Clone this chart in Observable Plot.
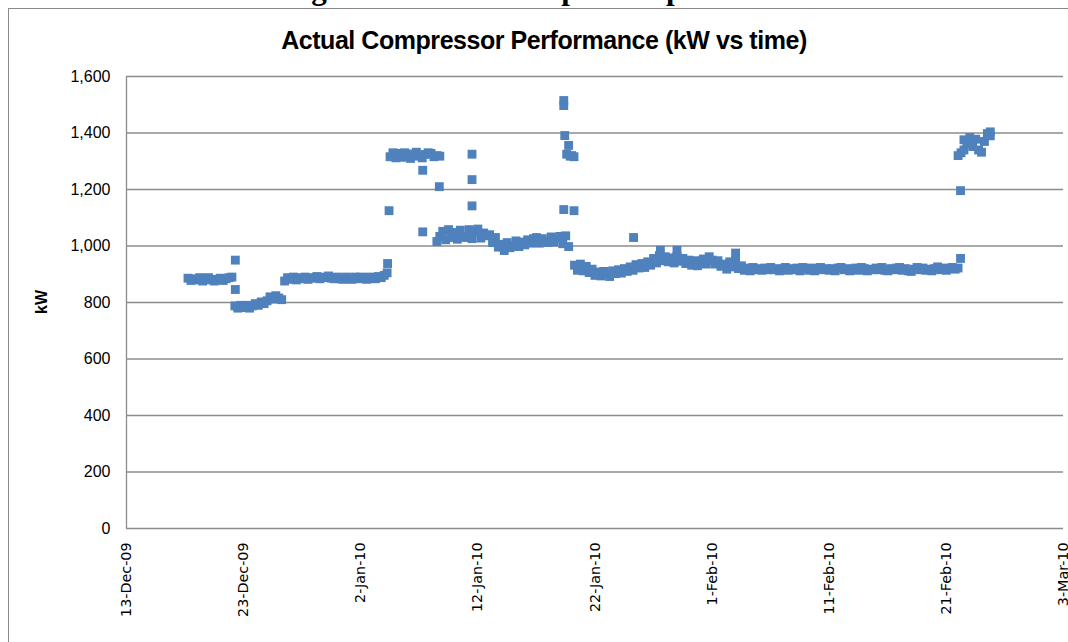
<!DOCTYPE html>
<html>
<head>
<meta charset="utf-8">
<script src="https://cdn.jsdelivr.net/npm/d3@7"></script>
<script src="https://cdn.jsdelivr.net/npm/@observablehq/plot@0.6"></script>
<style>
  html, body { margin: 0; padding: 0; background: #fff; }
  #wrap { position: relative; width: 1068px; height: 642px; overflow: hidden; }
  #frame { position: absolute; left: 8px; top: 8px; width: 1100px; height: 700px; border-left: 1px solid #8a8a8a; border-top: 1px solid #8a8a8a; }
  #caption { position: absolute; left: 26px; width: 1068px; top: -29px; text-align: center; font-family: "Liberation Serif", serif; font-weight: bold; font-size: 31px; color: #000; white-space: nowrap; }
  #title { position: absolute; left: 244px; width: 600px; top: 26px; text-align: center; font-family: "Liberation Sans", sans-serif; font-weight: bold; font-size: 25px; letter-spacing: -0.45px; color: #000; white-space: nowrap; }
  #ylabel { position: absolute; left: 42px; top: 302px; transform: translate(-50%, -50%) rotate(-90deg); font-family: "Liberation Sans", sans-serif; font-weight: bold; font-size: 16px; color: #000; }
  #chart { position: absolute; left: 0; top: 0; }
</style>
</head>
<body>
<div id="wrap">
  <div id="frame"></div>
  <div id="caption">Figure 4: Actual compressor performance</div>
  <div id="chart"></div>
  <div id="title">Actual Compressor Performance (kW vs time)</div>
  <div id="ylabel">kW</div>
</div>
<script>
// ---- Data ----
// Regular readings, every 6 hours, starting 18-Dec-09 06:00
const seriesStart = "2009-12-18T06:00";
const seriesStepHours = 6;
const kwValues = [
  886, 878, 884,                 // 18-Dec
  880, 888, 876, 884,            // 19-Dec
  888, 880, 876, 882,            // 20-Dec
  886, 878, 884, 888,            // 21-Dec
  890, 788, 780, 790,            // 22-Dec
  782, 790, 780, 788,            // 23-Dec
  796, 790, 802, 796,            // 24-Dec
  806, 820, 812, 824,            // 25-Dec
  816, 810, 876, 888,            // 26-Dec
  882, 890, 880, 888,            // 27-Dec
  884, 890, 882, 886,            // 28-Dec
  888, 892, 884, 888,            // 29-Dec
  890, 894, 886, 884,            // 30-Dec
  890, 884, 882, 890,            // 31-Dec
  884, 882, 890, 884,            // 1-Jan
  890, 886, 882, 890,            // 2-Jan
  888, 884, 892, 888,            // 3-Jan
  896, 905, 1316, 1330,          // 4-Jan
  1312, 1328, 1314, 1330,        // 5-Jan
  1316, 1310, 1326, 1332,        // 6-Jan
  1318, 1312, 1324, 1330,        // 7-Jan
  1328, 1316, 1016, 1034,        // 8-Jan
  1052, 1022, 1058, 1030,        // 9-Jan
  1048, 1024, 1056, 1034,        // 10-Jan
  1030, 1058, 1026, 1050,        // 11-Jan
  1060, 1028, 1046, 1036,        // 12-Jan
  1040, 1012, 1030, 996,         // 13-Jan
  1006, 984, 1012, 994,          // 14-Jan
  1002, 1018, 998, 1014,         // 15-Jan
  1004, 1022, 1010, 1026,        // 16-Jan
  1030, 1010, 1026, 1016,        // 17-Jan
  1012, 1032, 1014, 1028,        // 18-Jan
  1034, 1008, 1036, 998,         // 19-Jan
  1320, 932, 914, 936,           // 20-Jan
  912, 928, 906, 918,            // 21-Jan
  896, 908, 894, 910,            // 22-Jan
  900, 892, 912, 902,            // 23-Jan
  916, 904, 920, 910,            // 24-Jan
  926, 914, 934, 922,            // 25-Jan
  938, 924, 944, 932,            // 26-Jan
  956, 940, 966, 948,            // 27-Jan
  962, 944, 958, 940,            // 28-Jan
  964, 946, 956, 938,            // 29-Jan
  950, 932, 948, 930,            // 30-Jan
  944, 954, 936, 962,            // 31-Jan
  950, 936, 948, 928,            // 1-Feb
  936, 918, 944, 926,            // 2-Feb
  948, 920, 930, 914,            // 3-Feb
  922, 912, 924, 916,            // 4-Feb
  920, 914, 922, 916,            // 5-Feb
  924, 916, 920, 912,            // 6-Feb
  918, 924, 914, 920,            // 7-Feb
  916, 922, 912, 924,            // 8-Feb
  920, 914, 922, 912,            // 9-Feb
  918, 924, 916, 920,            // 10-Feb
  914, 920, 912, 922,            // 11-Feb
  924, 916, 920, 912,            // 12-Feb
  918, 922, 914, 924,            // 13-Feb
  920, 912, 918, 916,            // 14-Feb
  922, 916, 924, 914,            // 15-Feb
  912, 920, 916, 922,            // 16-Feb
  924, 914, 920, 912,            // 17-Feb
  910, 918, 924, 916,            // 18-Feb
  922, 914, 918, 912,            // 19-Feb
  920, 926, 916, 922,            // 20-Feb
  914, 920, 924, 918,            // 21-Feb
  922, 1330, 1376, 1362,         // 22-Feb
  1384, 1352, 1378, 1340,        // 23-Feb
  1332, 1370, 1398, 1404         // 24-Feb
];

// Individual off-band readings
const extraTimes = [
  "2009-12-22T07:00", "2009-12-22T07:00", "2010-01-04T07:00", "2010-01-04T10:00",
  "2010-01-07T07:00", "2010-01-07T07:00", "2010-01-08T12:00", "2010-01-08T18:00",
  "2010-01-08T17:00", "2010-01-11T12:00", "2010-01-11T12:00", "2010-01-11T12:00",
  "2010-01-19T08:00", "2010-01-19T08:00", "2010-01-19T10:00", "2010-01-19T08:00",
  "2010-01-19T14:00", "2010-01-19T18:00", "2010-01-19T21:00", "2010-01-20T05:00",
  "2010-01-20T05:00", "2010-01-25T07:00", "2010-01-27T14:00", "2010-01-29T00:00",
  "2010-02-03T00:00", "2010-02-22T00:00", "2010-02-22T05:00", "2010-02-22T05:00",
  "2010-02-22T12:00", "2010-02-23T00:00", "2010-02-24T18:00"
];
const extraValues = [
  950, 846, 938, 1125,
  1268, 1050, 1320, 1318,
  1210, 1325, 1235, 1142,
  1515, 1497, 1391, 1129,
  1325, 1356, 1318, 1316,
  1125, 1030, 985, 985,
  975, 1320, 956, 1196,
  1340, 1372, 1390
];

const xTickDates = ["2009-12-13", "2009-12-23", "2010-01-02", "2010-01-12", "2010-01-22",
                    "2010-02-01", "2010-02-11", "2010-02-21", "2010-03-03"];
const xTickLabels = ["13-Dec-09", "23-Dec-09", "2-Jan-10", "12-Jan-10", "22-Jan-10",
                     "1-Feb-10", "11-Feb-10", "21-Feb-10", "3-Mar-10"];
const yTicks = [0, 200, 400, 600, 800, 1000, 1200, 1400, 1600];

// ---- Build table ----
const utc = s => new Date(s + (s.length > 10 ? ":00Z" : "T00:00:00Z"));
const t0 = utc(seriesStart).getTime();
const points = kwValues.map((v, i) => ({t: new Date(t0 + i * seriesStepHours * 3600e3), kw: v}));
extraTimes.forEach((s, i) => points.push({t: utc(s), kw: extraValues[i]}));
const tickDates = xTickDates.map(utc);

const chart = Plot.plot({
  width: 1068,
  height: 642,
  marginLeft: 126,
  marginRight: 5,
  marginTop: 76,
  marginBottom: 114,
  style: {background: "transparent", overflow: "visible"},
  x: {type: "utc", domain: [tickDates[0], tickDates[tickDates.length - 1]]},
  y: {domain: [0, 1600]},
  marks: [
    Plot.ruleY(yTicks, {stroke: "#8c8c8c", strokeWidth: 1.3, strokeOpacity: 1}),
    Plot.ruleX([tickDates[0]], {stroke: "#8c8c8c", strokeWidth: 1.3}),
    Plot.axisY({
      ticks: yTicks, tickSize: 0, tickPadding: 16, label: null,
      tickFormat: d3.format(","), fontSize: 16,
      fontFamily: "Liberation Sans, sans-serif"
    }),
    Plot.axisX({
      ticks: tickDates, tickSize: 0, tickPadding: 14, tickRotate: -90, label: null,
      tickFormat: d => xTickLabels[tickDates.findIndex(t => +t === +d)],
      fontSize: 14.3, fontFamily: "DejaVu Sans, sans-serif"
    }),
    Plot.dot(points, {x: "t", y: "kw", symbol: "square", r: 5, fill: "#4F81BD", stroke: "none"})
  ]
});
chart.style.color = "#000";
document.getElementById("chart").appendChild(chart);
</script>
</body>
</html>
